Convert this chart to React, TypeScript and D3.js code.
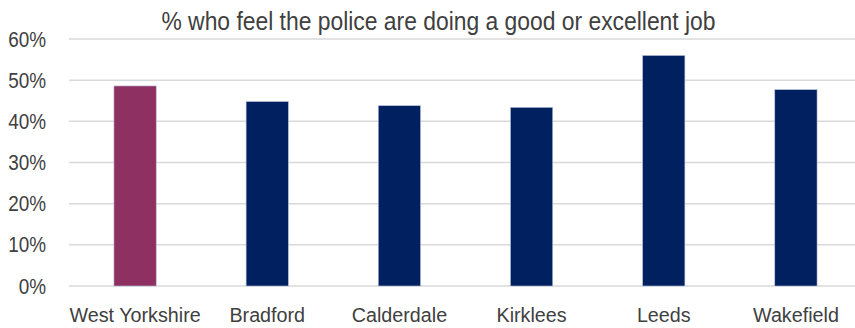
import React from "react";
import * as d3 from "d3";

const categories = ["West Yorkshire", "Bradford", "Calderdale", "Kirklees", "Leeds", "Wakefield"];
const values = [0.486, 0.448, 0.438, 0.434, 0.56, 0.477];
const barColors = ["#8E3062", "#002060", "#002060", "#002060", "#002060", "#002060"];
const yTicks = [0, 0.1, 0.2, 0.3, 0.4, 0.5, 0.6];
const title = "% who feel the police are doing a good or excellent job";

const W = 855;
const H = 328;
const font = "'Liberation Sans', Arial, sans-serif";
const textColor = "#404040";

export default function App() {
  const x = d3.scaleBand<string>().domain(categories).range([69, 862]).paddingInner(0.68).paddingOuter(0.34);
  const y = d3.scaleLinear().domain([0, 0.6]).range([286, 39]);
  const fmt = d3.format(".0%");

  return (
    <svg width={W} height={H} style={{ position: "absolute", left: 0, top: 0, background: "#fff" }}>
      <g>
        {yTicks.map((t) => (
          <line key={"g" + t} x1={69} x2={W} y1={y(t)} y2={y(t)} stroke="#d9d9d9" strokeWidth={1.5} />
        ))}
      </g>
      <g>
        {yTicks.map((t) => (
          <text
            key={"t" + t}
            transform={`translate(46,${y(t) + 7.5}) scale(0.88,1)`}
            textAnchor="end"
            fontFamily={font}
            fontSize={21.5}
            fill={textColor}
          >
            {fmt(t)}
          </text>
        ))}
      </g>
      <g>
        {categories.map((c, i) => (
          <rect
            key={c}
            x={x(c)}
            y={y(values[i])}
            width={x.bandwidth()}
            height={y(0) - y(values[i])}
            fill={barColors[i]}
            stroke="#b8c4dc"
            strokeWidth={0.6}
          />
        ))}
      </g>
      <g>
        {categories.map((c) => (
          <text
            key={"c" + c}
            transform={`translate(${(x(c) as number) + x.bandwidth() / 2},322) scale(0.94,1)`}
            textAnchor="middle"
            fontFamily={font}
            fontSize={21}
            fill={textColor}
          >
            {c}
          </text>
        ))}
      </g>
      <text
        transform={`translate(438.5,30) scale(0.88,1)`}
        textAnchor="middle"
        fontFamily={font}
        fontSize={26}
        fill={textColor}
      >
        {title}
      </text>
    </svg>
  );
}
